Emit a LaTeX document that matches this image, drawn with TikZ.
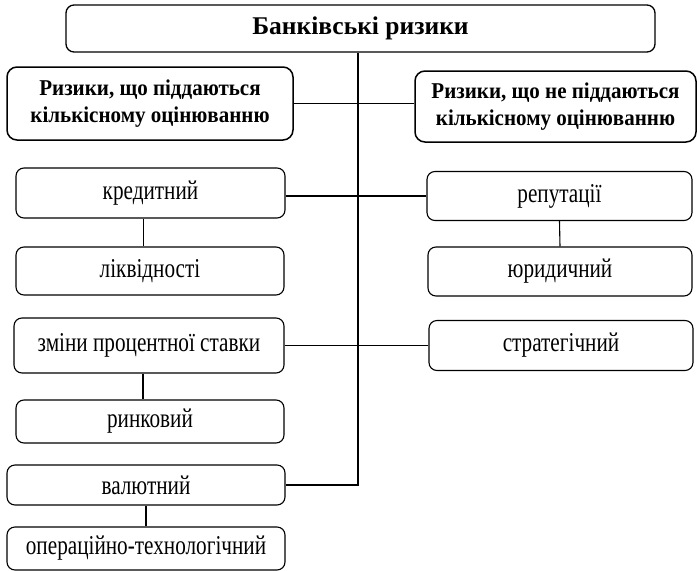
\documentclass[tikz,border=0pt]{standalone}
\usepackage{fontspec}
\setmainfont{Liberation Serif}
\newfontfamily\condserif[FakeStretch=0.78]{Liberation Serif}
\newfontfamily\semicond[FakeStretch=0.93]{Liberation Serif}
\begin{document}
\begin{tikzpicture}[x=1pt,y=1pt,
  box/.style={draw, line width=1.1pt, rounded corners=8pt, inner sep=0pt, align=center, font=\condserif\fontsize{27.2}{30}\selectfont},
  bbox/.style={draw, line width=1.5pt, rounded corners=10pt, inner sep=0pt, align=center, font=\semicond\fontsize{22.6}{27}\selectfont\bfseries},
  conn/.style={line width=1.1pt}]
\useasboundingbox (0,0) rectangle (697,-571);
\node[box, line width=1.3pt, font=\fontsize{25.5}{30}\selectfont\bfseries, minimum width=589pt, minimum height=47pt] (top) at (360.5,-28.5) {Банківські ризики};
\node[bbox, minimum width=286pt, minimum height=73pt] (q) at (150,-103.5) {Ризики, що піддаються\\кількісному оцінюванню};
\node[bbox, minimum width=281pt, minimum height=71pt] (nq) at (555.5,-106.5) {Ризики, що не піддаються\\кількісному оцінюванню};
\node[box, minimum width=269pt, minimum height=50pt] (kred) at (150.5,-193) {кредитний};
\node[box, minimum width=268pt, minimum height=48pt] (likv) at (150,-271) {ліквідності};
\node[box, minimum width=270pt, minimum height=55pt] (zmin) at (149,-345.5) {зміни процентної ставки};
\node[box, minimum width=268pt, minimum height=43pt] (rynk) at (150,-421.5) {ринковий};
\node[box, minimum width=278pt, minimum height=40pt] (valyut) at (146,-485) {валютний};
\node[box, minimum width=278pt, minimum height=43pt] (oper) at (146,-548.5) {операційно-технологічний};
\node[box, minimum width=265pt, minimum height=49pt] (rep) at (559.5,-196) {репутації};
\node[box, minimum width=264pt, minimum height=49pt] (yur) at (560,-271.5) {юридичний};
\node[box, minimum width=264pt, minimum height=50pt] (strat) at (561,-345.5) {стратегічний};
\coordinate (spine) at (358,0);
\coordinate (turn) at (spine |- valyut.east);
\draw[conn] (spine |- top.south) -- (turn) -- (valyut.east);
\draw[conn] (q.east) -- (q.east -| nq.west);
\draw[conn] (kred.east |- rep.west) -- (rep.west);
\draw[conn] (zmin.east |- strat.west) -- (strat.west);
\draw[conn] ([xshift=-7pt]kred.south) -- ([xshift=-7pt]kred.south |- likv.north);
\draw[conn] ([xshift=-6pt]zmin.south) -- ([xshift=-6pt]zmin.south |- rynk.north);
\draw[conn] (rep.south) -- (yur.north);
\draw[conn] (valyut.south) -- (oper.north);
\end{tikzpicture}
\end{document}
